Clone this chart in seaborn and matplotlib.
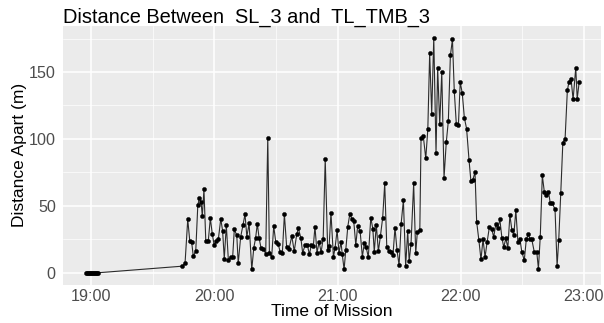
import numpy as np
import pandas as pd
import matplotlib
matplotlib.use("Agg")
import matplotlib.pyplot as plt
import matplotlib.dates as mdates
import seaborn as sns

# minutes after 19:00
minutes = [-2.5, -2, -1.5, -1, -0.5, 0, 0.5, 1, 1.5, 2, 2.5, 3, 3.5,
           44.4, 45.7, 47.0, 48.0, 48.9, 49.7, 50.9, 51.9, 52.7, 53.5, 54.1, 54.9,
           55.8, 57.0, 58.0, 59.0, 59.9, 60.9, 61.9, 63.1, 64.0, 64.8, 65.8, 66.8,
           67.9, 68.9, 69.7, 70.9, 71.6, 72.8, 73.9, 74.9, 75.8, 76.9, 78.2, 79.2,
           80.1, 80.9, 81.8, 82.7, 83.8, 85.0, 86.0, 86.8, 87.9, 88.9, 89.9, 91.0,
           92.1, 93.1, 94.1, 95.2, 96.4, 97.7, 98.9, 100.1, 100.9, 102.1, 103.0,
           104.2, 105.3, 106.3, 107.2, 108.2, 109.0, 110.0, 111.0, 112.0, 113.0,
           114.0, 115.2, 115.9, 116.8, 118.0, 118.8, 119.8, 120.7, 121.7, 122.3,
           123.2, 124.0, 125.0, 126.0, 126.9, 127.9, 128.9, 129.8, 131.0, 132.1,
           133.1, 133.9, 135.0, 136.2, 137.2, 137.9, 138.9, 139.9, 140.9, 142.0,
           143.0, 144.0, 145.1, 146.1, 147.0, 148.0, 149.0, 150.0, 151.0, 152.1,
           153.2, 154.2, 154.9, 155.8, 157.1, 158.1, 158.9, 160.1, 160.7, 161.8,
           163.0, 164.0, 164.9, 165.9, 166.9, 168.0, 168.8, 169.8, 170.8, 171.9,
           173.0, 174.0, 175.0, 176.0, 176.9, 177.9, 178.9, 179.8, 180.8, 181.8,
           182.9, 184.1, 185.0, 185.9, 187.0, 187.8, 188.9, 189.9, 190.9, 191.9,
           192.9, 194.0, 195.2, 196.1, 197.1, 198.1, 199.1, 200.1, 201.0, 202.0,
           203.0, 204.0, 205.0, 205.9, 206.9, 207.9, 208.9, 209.8, 211.0, 212.0,
           212.9, 213.8, 214.6, 215.9, 217.1, 217.9, 218.8, 219.8, 220.8, 221.8,
           222.8, 223.7, 224.7, 226.0, 227.0, 227.8, 228.8, 229.8, 230.9, 232.0,
           232.8, 233.8, 234.8, 236.1, 236.8, 237.8]

distance = [0, 0, 0, 0, 0, 0, 0, 0, 0, 0, 0, 0, 0,
            4.9, 7.5, 39.8, 23.6, 22.9, 12.4, 16.1, 50.3, 56.0, 52.8, 42.3, 62.3,
            23.6, 23.6, 40.6, 28.6, 20.4, 23.6, 24.9, 40.3, 31.1, 10.5, 35.4, 9.4,
            12.0, 12.0, 32.4, 27.9, 7.0, 26.9, 35.4, 43.8, 27.0, 36.8, 2.5, 18.7,
            26.2, 36.6, 25.6, 18.7, 17.9, 14.2, 100.9, 14.9, 11.7, 34.8, 22.9, 21.7,
            15.4, 14.4, 43.6, 19.4, 17.9, 27.4, 16.1, 28.6, 33.1, 26.2, 14.9,
            20.6, 20.6, 13.7, 20.4, 19.9, 34.4, 14.9, 22.9, 15.4, 25.4,
            85.2, 16.9, 19.9, 44.8, 11.7, 18.7, 31.8, 14.9, 22.9, 13.7,
            2.5, 16.9, 34.4, 44.1, 40.4, 38.6, 20.6, 34.8, 31.1, 12.0,
            22.4, 19.4, 11.7, 41.1, 32.9, 15.7, 35.6, 16.1, 27.4, 41.1,
            66.7, 19.4, 16.0, 15.4, 12.9, 33.6, 16.7, 5.5, 36.6, 54.3,
            4.9, 31.1, 8.7, 21.2, 66.7, 14.4, 30.6, 31.8, 100.4, 102.1,
            85.4, 107.1, 163.9, 118.8, 175.6, 89.7, 153.2, 110.8, 149.9, 71.0,
            97.6, 113.3, 162.4, 174.4, 135.7, 110.8, 110.1, 142.5, 134.0, 115.8,
            107.6, 83.9, 68.5, 69.2, 75.2, 38.1, 24.1, 9.9, 24.9, 11.7,
            22.9, 34.1, 32.4, 26.6, 36.1, 33.1, 39.8, 26.2, 19.1, 25.6,
            18.7, 43.0, 31.6, 28.1, 46.6, 23.2, 24.9, 15.7, 9.2, 24.9,
            28.6, 25.4, 25.4, 15.4, 15.4, 3.0, 26.9, 72.7, 60.2, 58.0,
            60.5, 51.8, 51.8, 47.3, 4.9, 24.4, 59.8, 97.2, 100.1, 136.2,
            142.8, 145.0, 129.5, 153.2, 130.0, 142.8]

y_ticks = [0, 50, 100, 150]
title = "Distance Between  SL_3 and  TL_TMB_3"
xlabel = "Time of Mission"
ylabel = "Distance Apart (m)"

base = pd.Timestamp("2021-01-01 19:00:00")
df = pd.DataFrame({
    "time": base + pd.to_timedelta(minutes, unit="m"),
    "distance": distance,
})

sns.set_theme(style="darkgrid")
plt.rcParams["font.family"] = ["Liberation Sans", "DejaVu Sans"]

W, H = 604, 323
fig = plt.figure(figsize=(W / 100, H / 100), dpi=100)
fig.patch.set_facecolor("white")
left, right, top, bottom = 62.7, 601, 26, 284.5
ax = fig.add_axes([left / W, 1 - bottom / H, (right - left) / W, (bottom - top) / H])
ax.set_facecolor("#EBEBEB")

sns.lineplot(data=df, x="time", y="distance", ax=ax, color="#2b2b2b",
             linewidth=0.8, sort=False, estimator=None)
sns.scatterplot(data=df, x="time", y="distance", ax=ax, color="black",
                s=9, edgecolor="black", linewidth=0.3, zorder=3)

xmin = base + pd.Timedelta(minutes=-13.94)
xmax = base + pd.Timedelta(minutes=248.4)
ax.set_xlim(xmin, xmax)
ax.set_ylim(-8.8, 184.4)

ax.xaxis.set_major_locator(mdates.HourLocator())
ax.xaxis.set_minor_locator(mdates.MinuteLocator(byminute=[30]))
ax.xaxis.set_major_formatter(mdates.DateFormatter("%H:%M"))
ax.set_yticks(y_ticks)
ax.set_yticks([25, 75, 125, 175], minor=True)

ax.grid(which="major", color="white", linewidth=1.1)
ax.grid(which="minor", color="white", linewidth=0.5)
ax.set_axisbelow(True)
for s in ax.spines.values():
    s.set_visible(False)

ax.tick_params(axis="both", which="major", length=2.75, width=0.8, color="#333333",
               labelcolor="#4D4D4D", labelsize=11.6)
ax.tick_params(axis="x", which="major", pad=0.5)
ax.tick_params(axis="y", which="major", pad=2.2)
ax.tick_params(axis="both", which="minor", length=0)
ax.set_xlabel("")
ax.set_ylabel("")

fig.text(left / W, 1 - 22.5 / H, title, ha="left", va="baseline", fontsize=14.4, color="black")
fig.text((left + right) / 2 / W, 1 - 316.5 / H, xlabel, ha="center", va="baseline",
         fontsize=12.5, color="black")
fig.text(20 / W, 1 - 155 / H, ylabel, ha="center", va="center", rotation=90,
         fontsize=12.5, color="black")

fig.savefig("out.png", dpi=100)
